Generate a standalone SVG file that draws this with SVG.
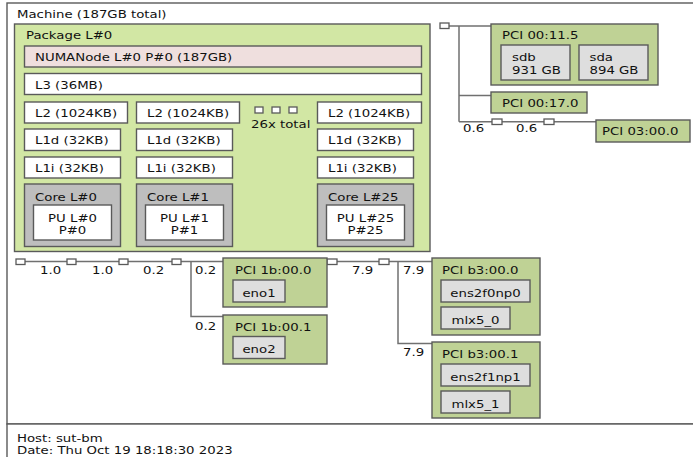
<svg xmlns="http://www.w3.org/2000/svg" width="693" height="457" viewBox="0 0 693 457">
<style>
.t{font-family:"DejaVu Sans",sans-serif;font-size:10px;fill:#111}
.c{text-anchor:middle}
.b{stroke:#5a5a5a;stroke-width:1.4}
.mach{fill:#fff}
.pkg{fill:#d2e7a4}
.numa{fill:#efdfde}
.cache{fill:#fff}
.core{fill:#bebebe}
.pu{fill:#fff}
.pci{fill:#bfd295}
.os{fill:#dedede}
.br{fill:#fff;stroke:#5a5a5a;stroke-width:1.3}
.ln{stroke:#707070;stroke-width:1.5;fill:none}
</style>
<rect width="693" height="457" fill="#fff"/>
<g id="machine">
<rect class="b mach" x="7" y="3" width="700" height="421"/>
<text class="t" transform="translate(17 18) scale(1.33 1)">Machine (187GB total)</text>
</g>
<g id="package">
<rect class="b pkg" x="14.5" y="24" width="415.5" height="227.5"/>
<text class="t" transform="translate(26 38.5) scale(1.33 1)">Package L#0</text>
</g>
<g id="numa">
<rect class="b numa" x="24.5" y="46" width="397" height="21"/>
<text class="t" transform="translate(35 60.5) scale(1.33 1)">NUMANode L#0 P#0 (187GB)</text>
</g>
<g id="l3">
<rect class="b cache" x="24.5" y="73.5" width="397" height="21"/>
<text class="t" transform="translate(35 88.5) scale(1.33 1)">L3 (36MB)</text>
</g>
<g id="l2-0">
<rect class="b cache" x="24.5" y="102" width="103" height="21"/>
<text class="t" transform="translate(35 117) scale(1.33 1)">L2 (1024KB)</text>
</g>
<g id="l2-1">
<rect class="b cache" x="136.5" y="102" width="103" height="21"/>
<text class="t" transform="translate(147 117) scale(1.33 1)">L2 (1024KB)</text>
</g>
<g id="l2-25">
<rect class="b cache" x="317.5" y="102" width="104" height="21"/>
<text class="t" transform="translate(328 117) scale(1.33 1)">L2 (1024KB)</text>
</g>
<g id="more">
<rect class="br" x="255" y="107" width="8" height="6"/>
<rect class="br" x="272" y="107" width="8" height="6"/>
<rect class="br" x="289" y="107" width="8" height="6"/>
<text class="t" transform="translate(251 128) scale(1.33 1)">26x total</text>
</g>
<g id="l1d-0">
<rect class="b cache" x="24.5" y="129" width="96" height="21.5"/>
<text class="t" transform="translate(35 144) scale(1.33 1)">L1d (32KB)</text>
</g>
<g id="l1d-1">
<rect class="b cache" x="136.5" y="129" width="96" height="21.5"/>
<text class="t" transform="translate(147 144) scale(1.33 1)">L1d (32KB)</text>
</g>
<g id="l1d-25">
<rect class="b cache" x="317.5" y="129" width="96" height="21.5"/>
<text class="t" transform="translate(328 144) scale(1.33 1)">L1d (32KB)</text>
</g>
<g id="l1i-0">
<rect class="b cache" x="24.5" y="157" width="96" height="21"/>
<text class="t" transform="translate(35 171.5) scale(1.33 1)">L1i (32KB)</text>
</g>
<g id="l1i-1">
<rect class="b cache" x="136.5" y="157" width="96" height="21"/>
<text class="t" transform="translate(147 171.5) scale(1.33 1)">L1i (32KB)</text>
</g>
<g id="l1i-25">
<rect class="b cache" x="317.5" y="157" width="96" height="21"/>
<text class="t" transform="translate(328 171.5) scale(1.33 1)">L1i (32KB)</text>
</g>
<g id="core-0">
<rect class="b core" x="24.5" y="184" width="96" height="62.5"/>
<text class="t" transform="translate(35 200.5) scale(1.33 1)">Core L#0</text>
</g>
<g id="core-1">
<rect class="b core" x="136.5" y="184" width="96" height="62.5"/>
<text class="t" transform="translate(147 200.5) scale(1.33 1)">Core L#1</text>
</g>
<g id="core-25">
<rect class="b core" x="317.5" y="184" width="96" height="62.5"/>
<text class="t" transform="translate(328 200.5) scale(1.33 1)">Core L#25</text>
</g>
<g id="pu-0">
<rect class="b pu" x="33.5" y="205" width="78" height="35"/>
<text class="t c" transform="translate(72.5 222) scale(1.33 1)">PU L#0</text>
<text class="t c" transform="translate(72.5 234) scale(1.33 1)">P#0</text>
</g>
<g id="pu-1">
<rect class="b pu" x="145.5" y="205" width="78" height="35"/>
<text class="t c" transform="translate(184.5 222) scale(1.33 1)">PU L#1</text>
<text class="t c" transform="translate(184.5 234) scale(1.33 1)">P#1</text>
</g>
<g id="pu-25">
<rect class="b pu" x="326.5" y="205" width="78" height="35"/>
<text class="t c" transform="translate(365.5 222) scale(1.33 1)">PU L#25</text>
<text class="t c" transform="translate(365.5 234) scale(1.33 1)">P#25</text>
</g>
<g id="connectors">
<path class="ln" d="M449 26H491M459 26V121.7M459 95.5H491M459 121.7H492M502 121.7H544M554 121.7H596"/>
<path class="ln" d="M25 261.5H67M76 261.5H119M128 261.5H172M181 261.5H223M191 261.5V316.5H223"/>
<path class="ln" d="M337 261.5H379M389 261.5H432M398 261.5V343.5H432"/>
<rect class="br" x="440" y="23" width="9" height="5.5"/>
<rect class="br" x="492" y="119" width="10" height="5.5"/>
<rect class="br" x="544" y="119" width="10" height="5.5"/>
<rect class="br" x="16" y="259" width="9" height="5.5"/>
<rect class="br" x="67" y="259" width="9" height="5.5"/>
<rect class="br" x="119" y="259" width="9" height="5.5"/>
<rect class="br" x="172" y="259" width="9" height="5.5"/>
<rect class="br" x="327" y="259" width="10" height="5.5"/>
<rect class="br" x="379" y="259" width="10" height="5.5"/>
<text class="t" transform="translate(463 132) scale(1.33 1)">0.6</text>
<text class="t" transform="translate(516 132) scale(1.33 1)">0.6</text>
<text class="t" transform="translate(40 273.5) scale(1.33 1)">1.0</text>
<text class="t" transform="translate(92 273.5) scale(1.33 1)">1.0</text>
<text class="t" transform="translate(143 273.5) scale(1.33 1)">0.2</text>
<text class="t" transform="translate(195 273.5) scale(1.33 1)">0.2</text>
<text class="t" transform="translate(195 330) scale(1.33 1)">0.2</text>
<text class="t" transform="translate(352 273.5) scale(1.33 1)">7.9</text>
<text class="t" transform="translate(403 273.5) scale(1.33 1)">7.9</text>
<text class="t" transform="translate(403 355.5) scale(1.33 1)">7.9</text>
</g>
<g id="pci-00-11-5">
<rect class="b pci" x="491" y="24" width="167" height="61"/>
<text class="t" transform="translate(502 39) scale(1.33 1)">PCI 00:11.5</text>
</g>
<g id="sdb">
<rect class="b os" x="501" y="45" width="69" height="35"/>
<text class="t" transform="translate(512 61) scale(1.33 1)">sdb</text>
<text class="t" transform="translate(512 73.5) scale(1.33 1)">931 GB</text>
</g>
<g id="sda">
<rect class="b os" x="579" y="45" width="69" height="35"/>
<text class="t" transform="translate(589.5 61) scale(1.33 1)">sda</text>
<text class="t" transform="translate(589.5 73.5) scale(1.33 1)">894 GB</text>
</g>
<g id="pci-00-17-0">
<rect class="b pci" x="491" y="92" width="96" height="21"/>
<text class="t" transform="translate(502 106.5) scale(1.33 1)">PCI 00:17.0</text>
</g>
<g id="pci-03-00-0">
<rect class="b pci" x="596" y="120" width="94" height="22"/>
<text class="t" transform="translate(602 134.5) scale(1.33 1)">PCI 03:00.0</text>
</g>
<g id="pci-1b-00-0">
<rect class="b pci" x="223" y="258" width="104" height="49"/>
<text class="t" transform="translate(235 274) scale(1.33 1)">PCI 1b:00.0</text>
</g>
<g id="eno1">
<rect class="b os" x="233" y="280" width="52" height="22"/>
<text class="t c" transform="translate(259 296.5) scale(1.33 1)">eno1</text>
</g>
<g id="pci-1b-00-1">
<rect class="b pci" x="223" y="315" width="104" height="49"/>
<text class="t" transform="translate(235 331) scale(1.33 1)">PCI 1b:00.1</text>
</g>
<g id="eno2">
<rect class="b os" x="233" y="336.5" width="52" height="22"/>
<text class="t c" transform="translate(259 353) scale(1.33 1)">eno2</text>
</g>
<g id="pci-b3-00-0">
<rect class="b pci" x="432" y="258" width="108" height="77"/>
<text class="t" transform="translate(442 274) scale(1.33 1)">PCI b3:00.0</text>
</g>
<g id="ens2f0np0">
<rect class="b os" x="441" y="280" width="89" height="22"/>
<text class="t c" transform="translate(485.5 296.5) scale(1.33 1)">ens2f0np0</text>
</g>
<g id="mlx5_0">
<rect class="b os" x="441" y="307" width="69" height="22"/>
<text class="t c" transform="translate(475.5 323.5) scale(1.33 1)">mlx5_0</text>
</g>
<g id="pci-b3-00-1">
<rect class="b pci" x="432" y="342" width="108" height="76"/>
<text class="t" transform="translate(442 358) scale(1.33 1)">PCI b3:00.1</text>
</g>
<g id="ens2f1np1">
<rect class="b os" x="441" y="364" width="89" height="22"/>
<text class="t c" transform="translate(485.5 380.5) scale(1.33 1)">ens2f1np1</text>
</g>
<g id="mlx5_1">
<rect class="b os" x="441" y="391" width="69" height="22"/>
<text class="t c" transform="translate(475.5 407.5) scale(1.33 1)">mlx5_1</text>
</g>
<g id="legend">
<rect class="b mach" x="7" y="424" width="700" height="40"/>
<text class="t" transform="translate(17 441.5) scale(1.33 1)">Host: sut-bm</text>
<text class="t" transform="translate(17 454) scale(1.33 1)">Date: Thu Oct 19 18:18:30 2023</text>
</g>
</svg>
